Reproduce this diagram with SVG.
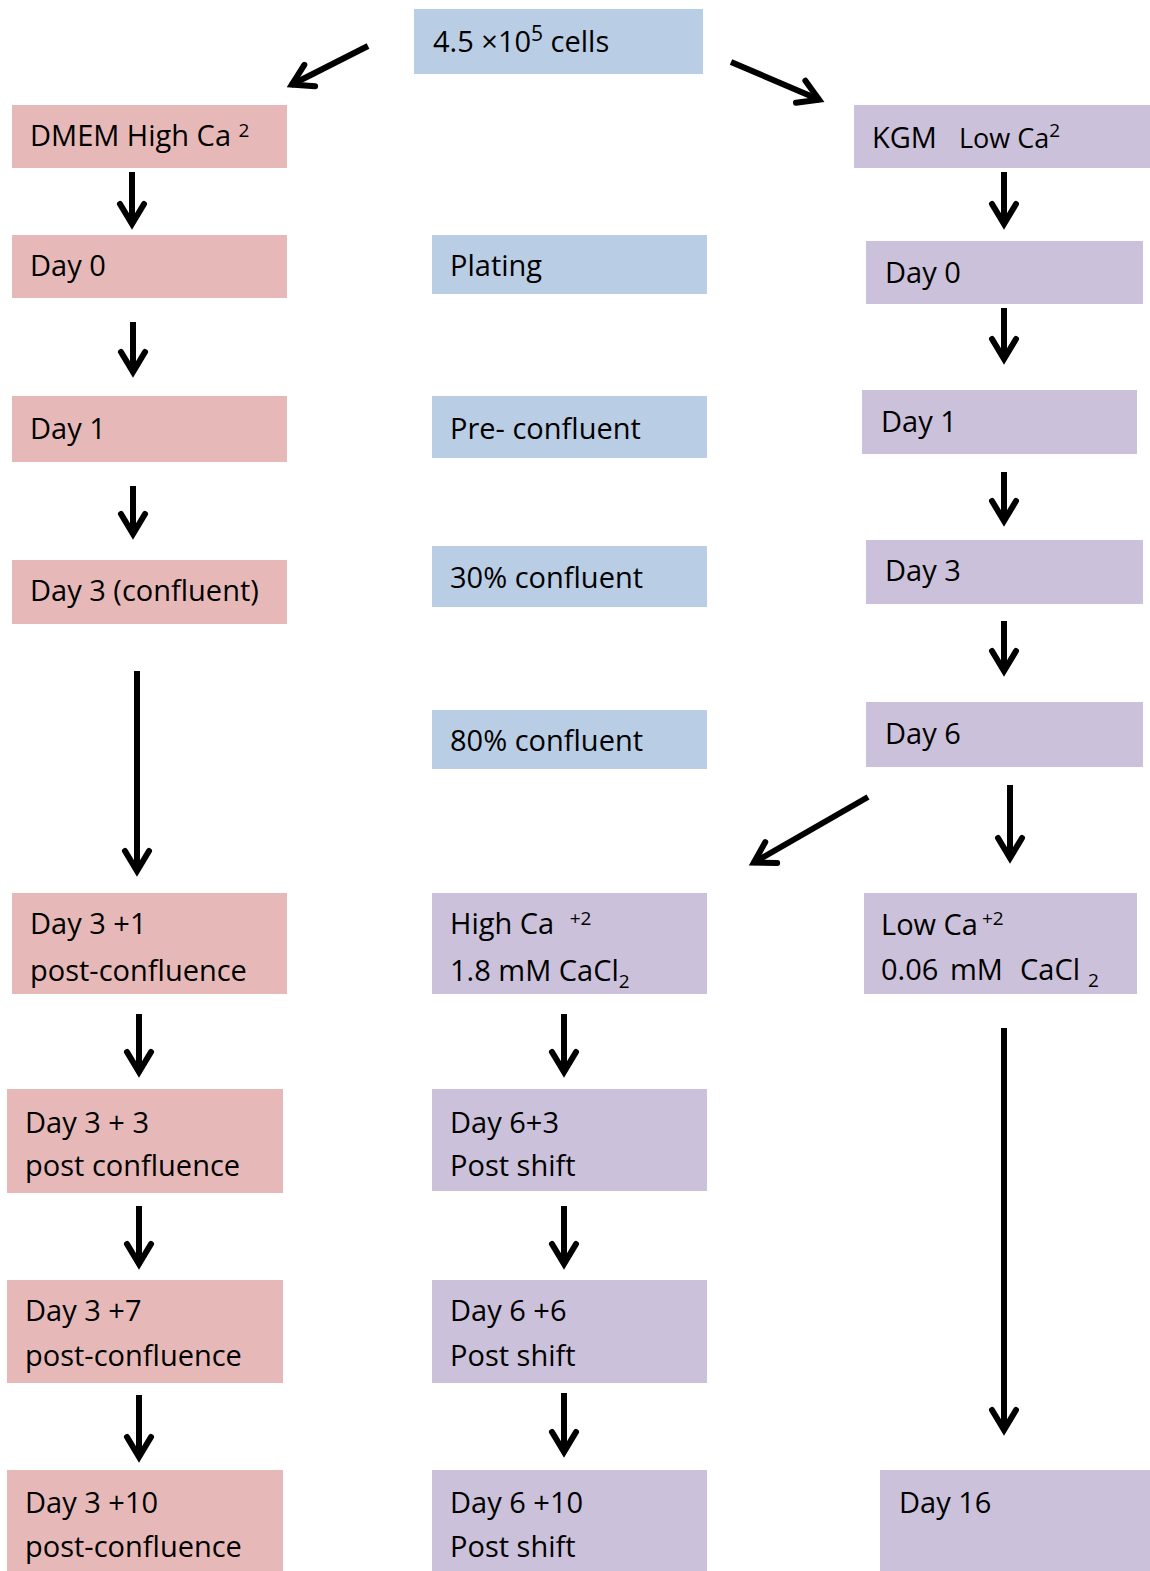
<svg xmlns="http://www.w3.org/2000/svg" width="1150" height="1571" viewBox="0 0 1150 1571">
<defs>
<style>
.pink{fill:#e6b9b8}
.blue{fill:#b9cde4}
.purp{fill:#ccc1da}
text{font-family:"Open Sans","Noto Sans","Liberation Sans",sans-serif;font-size:29px;fill:#000}
.sm{font-size:19px}
.arr{stroke:#000;stroke-width:6;fill:none;marker-end:url(#ah)}
</style>
<marker id="ah" markerUnits="userSpaceOnUse" markerWidth="40" markerHeight="40" viewBox="-30 -20 40 40" refX="0" refY="0" orient="auto" overflow="visible">
<path d="M-21,-12 L-1,0 L-21,12" fill="none" stroke="#000" stroke-width="6" stroke-linecap="round" stroke-linejoin="miter"/>
</marker>
</defs>
<rect width="1150" height="1571" fill="#fff"/>

<g id="connectors">
<line class="arr" x1="368" y1="46" x2="291" y2="85"/>
<line class="arr" x1="731" y1="62" x2="820" y2="100"/>
<line class="arr" x1="132" y1="172" x2="132" y2="225"/>
<line class="arr" x1="133" y1="322" x2="133" y2="373"/>
<line class="arr" x1="133" y1="486" x2="133" y2="535"/>
<line class="arr" x1="137" y1="671" x2="137" y2="872"/>
<line class="arr" x1="139" y1="1014" x2="139" y2="1073"/>
<line class="arr" x1="139" y1="1206" x2="139" y2="1265"/>
<line class="arr" x1="139" y1="1395" x2="139" y2="1458"/>
<line class="arr" x1="564" y1="1014" x2="564" y2="1073"/>
<line class="arr" x1="564" y1="1206" x2="564" y2="1265"/>
<line class="arr" x1="564" y1="1393" x2="564" y2="1453"/>
<line class="arr" x1="1004" y1="172" x2="1004" y2="225"/>
<line class="arr" x1="1004" y1="308" x2="1004" y2="360"/>
<line class="arr" x1="1004" y1="472" x2="1004" y2="522"/>
<line class="arr" x1="1004" y1="621" x2="1004" y2="672"/>
<line class="arr" x1="1010" y1="785" x2="1010" y2="859"/>
<line class="arr" x1="1004" y1="1028" x2="1004" y2="1431"/>
<line class="arr" x1="868" y1="797" x2="753" y2="863"/>
</g>

<g id="n-cells"><rect class="blue" x="414" y="9" width="289" height="65"/>
<text x="433" y="52">4.5 ×10<tspan font-size="21" dy="-11">5</tspan><tspan dy="11"> cells</tspan></text></g>

<g id="n-dmem"><rect class="pink" x="12" y="105" width="275" height="63"/>
<text x="30" y="146">DMEM High Ca <tspan class="sm" dy="-9">2</tspan></text></g>

<g id="n-kgm"><rect class="purp" x="854" y="105" width="296" height="63"/>
<text x="872" y="148" font-size="30">KGM<tspan x="959" font-size="27">Low Ca</tspan><tspan class="sm" dy="-11">2</tspan></text></g>

<g id="n-l-day0"><rect class="pink" x="12" y="235" width="275" height="63"/><text x="30" y="276">Day 0</text></g>
<g id="n-l-day1"><rect class="pink" x="12" y="396" width="275" height="66"/><text x="30" y="439">Day 1</text></g>
<g id="n-l-day3"><rect class="pink" x="12" y="560" width="275" height="64"/><text x="30" y="601">Day 3 (confluent)</text></g>
<g id="n-l-d3p1"><rect class="pink" x="12" y="893" width="275" height="101"/><text x="30" y="934">Day 3 +1</text><text x="30" y="981">post-confluence</text></g>
<g id="n-l-d3p3"><rect class="pink" x="7" y="1089" width="276" height="104"/><text x="25" y="1133">Day 3 + 3</text><text x="25" y="1176">post confluence</text></g>
<g id="n-l-d3p7"><rect class="pink" x="7" y="1280" width="276" height="103"/><text x="25" y="1321">Day 3 +7</text><text x="25" y="1366">post-confluence</text></g>
<g id="n-l-d3p10"><rect class="pink" x="7" y="1470" width="276" height="101"/><text x="25" y="1513">Day 3 +10</text><text x="25" y="1557">post-confluence</text></g>

<g id="n-m-plating"><rect class="blue" x="432" y="235" width="275" height="59"/><text x="450" y="276">Plating</text></g>
<g id="n-m-pre"><rect class="blue" x="432" y="396" width="275" height="62"/><text x="450" y="439">Pre- confluent</text></g>
<g id="n-m-30"><rect class="blue" x="432" y="546" width="275" height="61"/><text x="450" y="588">30% confluent</text></g>
<g id="n-m-80"><rect class="blue" x="432" y="710" width="275" height="59"/><text x="450" y="751">80% confluent</text></g>
<g id="n-m-high"><rect class="purp" x="432" y="893" width="275" height="101"/>
<text x="450" y="934">High Ca <tspan class="sm" dx="8" dy="-9">+2</tspan></text>
<text x="450" y="981" font-size="30">1.8 mM CaCl<tspan class="sm" dy="7">2</tspan></text></g>
<g id="n-m-d6p3"><rect class="purp" x="432" y="1089" width="275" height="102"/><text x="450" y="1133">Day 6+3</text><text x="450" y="1176">Post shift</text></g>
<g id="n-m-d6p6"><rect class="purp" x="432" y="1280" width="275" height="103"/><text x="450" y="1321">Day 6 +6</text><text x="450" y="1366">Post shift</text></g>
<g id="n-m-d6p10"><rect class="purp" x="432" y="1470" width="275" height="101"/><text x="450" y="1513">Day 6 +10</text><text x="450" y="1557">Post shift</text></g>

<g id="n-r-day0"><rect class="purp" x="866" y="241" width="277" height="63"/><text x="885" y="283">Day 0</text></g>
<g id="n-r-day1"><rect class="purp" x="862" y="390" width="275" height="64"/><text x="881" y="432">Day 1</text></g>
<g id="n-r-day3"><rect class="purp" x="866" y="540" width="277" height="64"/><text x="885" y="581">Day 3</text></g>
<g id="n-r-day6"><rect class="purp" x="866" y="702" width="277" height="65"/><text x="885" y="744">Day 6</text></g>
<g id="n-r-low"><rect class="purp" x="864" y="893" width="273" height="101"/>
<text x="881" y="935" font-size="27">Low Ca<tspan class="sm" dx="4" dy="-10">+2</tspan></text>
<text x="881" y="980" font-size="27">0.06<tspan x="950">mM</tspan><tspan x="1020">CaCl</tspan><tspan class="sm" x="1088" dy="7">2</tspan></text></g>
<g id="n-r-day16"><rect class="purp" x="880" y="1470" width="270" height="101"/><text x="899" y="1513">Day 16</text></g>
</svg>
